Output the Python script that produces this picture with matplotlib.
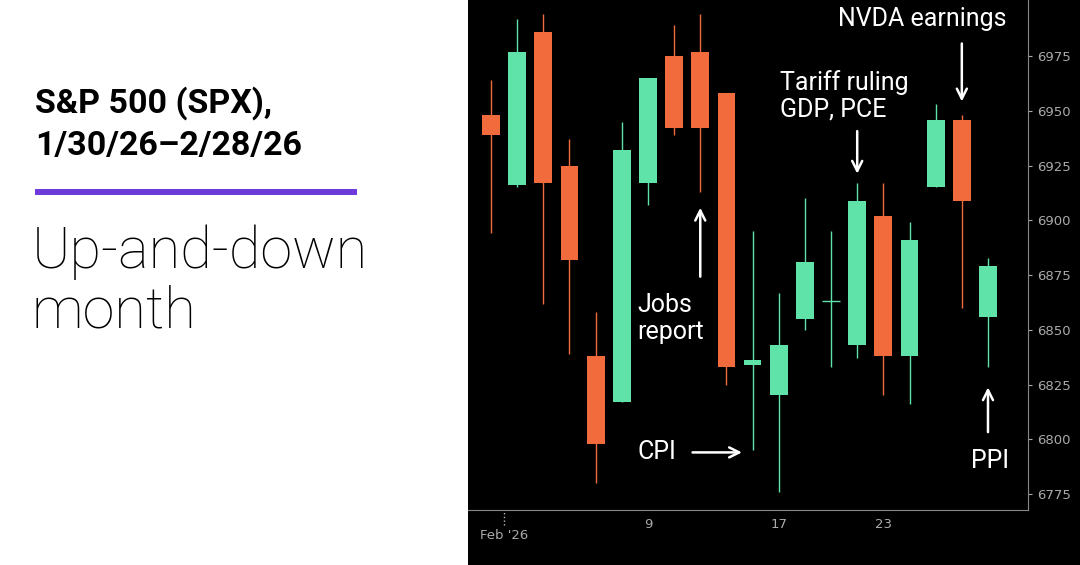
import matplotlib.pyplot as plt
from matplotlib.patches import Rectangle

# daily candles, 1/30/26 - 2/27/26
dates = ['1/30', '2/2', '2/3', '2/4', '2/5', '2/6', '2/9', '2/10', '2/11', '2/12',
         '2/13', '2/17', '2/18', '2/19', '2/20', '2/23', '2/24', '2/25', '2/26', '2/27']
opens = [6948, 6916, 6986, 6925, 6838, 6817, 6917, 6975, 6977, 6958,
         6834, 6820, 6855, 6863, 6843, 6902, 6838, 6915, 6946, 6856]
closes = [6939, 6977, 6917, 6882, 6798, 6932, 6965, 6942, 6942, 6833,
          6836, 6843, 6881, 6863, 6909, 6838, 6891, 6946, 6909, 6879]
highs = [6964, 6992, 6994, 6937, 6858, 6945, 6965, 6989, 6994, 6958,
         6895, 6867, 6910, 6895, 6917, 6917, 6899, 6953, 6948, 6883]
lows = [6894, 6915, 6862, 6839, 6780, 6817, 6907, 6939, 6913, 6825,
        6795, 6776, 6850, 6833, 6837, 6820, 6816, 6915, 6860, 6833]
tick_pos = [6, 11, 15]
tick_labels = ['9', '17', '23']
yticks = [6775, 6800, 6825, 6850, 6875, 6900, 6925, 6950, 6975]

up_col = '#5fe3a9'
down_col = '#f26b3d'

fig = plt.figure(figsize=(10.8, 5.65), dpi=100)
fig.patch.set_facecolor('white')
fig.patches.append(Rectangle((468 / 1080, 0), 1 - 468 / 1080, 1, transform=fig.transFigure,
                             facecolor='black', zorder=-10))

ax = fig.add_axes([468 / 1080, 55 / 565, (1028 - 468) / 1080, 510 / 565])
ax.set_facecolor('black')

for i in range(len(dates)):
    o, c, h, l = opens[i], closes[i], highs[i], lows[i]
    col = up_col if c >= o else down_col
    ax.vlines(i, l, h, color=col, lw=1, zorder=2)
    ht = abs(c - o)
    if ht < 1.5:
        ax.hlines(o, i - 0.35, i + 0.35, color=col, lw=1, zorder=3)
    else:
        ax.bar(i, ht, bottom=min(o, c), width=0.68, color=col, zorder=3)

ax.set_xlim(-0.88, 20.53)
ax.set_ylim(6767.7, 7000.6)
ax.yaxis.tick_right()
ax.set_yticks(yticks)
ax.set_xticks(tick_pos)
ax.set_xticklabels(tick_labels)
ax.tick_params(colors='#aaaaaa', labelsize=9.5, length=3)
ax.tick_params(axis='x', length=0, pad=6)
for s in ['top', 'left']:
    ax.spines[s].set_visible(False)
for s in ['bottom', 'right']:
    ax.spines[s].set_color('#888888')
ax.text(0.5, 6756, "Feb '26", color='#aaaaaa', fontsize=9.5, ha='center', va='center',
        clip_on=False)
ax.vlines(0.5, 6761, 6767.7, color='#bbbbbb', lw=1, linestyles=':', clip_on=False)

txt = dict(color='white', fontsize=18, family='Roboto')
arr = dict(arrowstyle='->', color='white', lw=1.8, mutation_scale=18)
ax.text(16.5, 6992, 'NVDA earnings', ha='center', va='center', **txt)
ax.annotate('', xy=(18, 6953), xytext=(18, 6982), arrowprops=arr)
ax.text(11.05, 6957, 'Tariff ruling\nGDP, PCE', ha='left', va='center', linespacing=1.15, **txt)
ax.annotate('', xy=(14, 6920), xytext=(14, 6942), arrowprops=arr)
ax.text(5.6, 6855, 'Jobs\nreport', ha='left', va='center', linespacing=1.15, **txt)
ax.annotate('', xy=(8, 6907), xytext=(8, 6873), arrowprops=arr)
ax.text(5.6, 6794, 'CPI', ha='left', va='center', **txt)
ax.annotate('', xy=(9.7, 6794), xytext=(7.6, 6794), arrowprops=arr)
ax.text(18.35, 6790, 'PPI', ha='left', va='center', **txt)
ax.annotate('', xy=(19, 6825), xytext=(19, 6802), arrowprops=arr)

fig.text(35 / 1080, 1 - 124 / 565, 'S&P 500 (SPX),\n1/30/26–2/28/26', fontsize=24.5,
         fontweight='bold', family='Roboto', va='center', ha='left', linespacing=1.4)
fig.patches.append(Rectangle((35 / 1080, 1 - 195 / 565), 322 / 1080, 6 / 565,
                             transform=fig.transFigure, facecolor='#6b3ad8'))
fig.text(32 / 1080, 1 - 282 / 565, 'Up-and-down\nmonth', fontsize=41.5, fontweight='light',
         family='Roboto', va='center', ha='left', linespacing=1.12)

fig.savefig('out.png', dpi=100, facecolor=fig.get_facecolor())
